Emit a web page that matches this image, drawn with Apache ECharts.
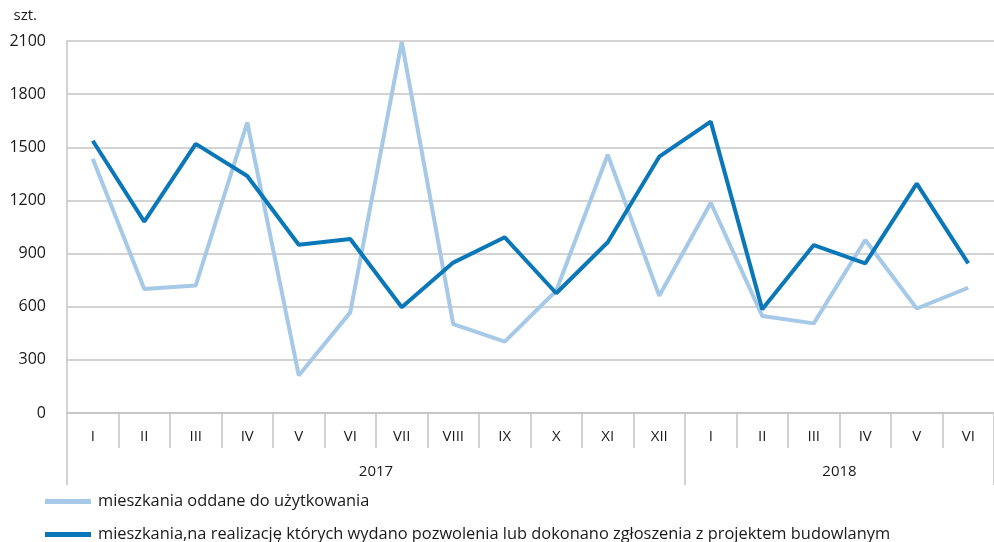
<!DOCTYPE html>
<html>
<head>
<meta charset="utf-8">
<script src="https://cdn.jsdelivr.net/npm/echarts@6/dist/echarts.min.js"></script>
<style>
  html, body { margin: 0; padding: 0; background: #fff; }
  #chart { width: 994px; height: 542px; }
</style>
</head>
<body>
<div id="chart"></div>
<script>
var months = ['I', 'II', 'III', 'IV', 'V', 'VI', 'VII', 'VIII', 'IX', 'X', 'XI', 'XII',
              'I', 'II', 'III', 'IV', 'V', 'VI'];
var years = ['2017', '2018'];
var yearStarts = [0, 12, 18];      // month index where each year starts / ends
var yearCenters = [6, 15];         // middle of each year block
var yTicks = [0, 300, 600, 900, 1200, 1500, 1800, 2100];

var oddane = [1435, 700, 720, 1640, 212, 568, 2095, 502, 403, 690, 1458, 662,
              1187, 548, 506, 977, 590, 707];
var pozwolenia = [1537, 1080, 1519, 1338, 950, 982, 597, 849, 992, 676, 964, 1447,
                  1645, 585, 948, 845, 1295, 845];

var font = 'Open Sans';
var gray = '#c4c4c4';

var myChart = echarts.init(document.getElementById('chart'));
var option = {
    animation: false,
    textStyle: {fontFamily: font},
    grid: {left: 67, top: 41, width: 930, height: 372},
    legend: {
        orient: 'vertical',
        left: 45,
        top: 493,
        padding: 0,
        height: 60,
        itemGap: 16,
        itemWidth: 46,
        itemHeight: 5,
        icon: 'rect',
        textStyle: {fontSize: 16.4, color: '#1a1a1a', fontFamily: font, lineHeight: 17, padding: [0, 0, 0, 2]},
        data: ['mieszkania oddane do użytkowania',
               'mieszkania,na realizację których wydano pozwolenia lub dokonano zgłoszenia z projektem budowlanym']
    },
    xAxis: [{
        type: 'category',
        data: months,
        boundaryGap: true,
        position: 'bottom',
        axisLine: {lineStyle: {color: gray, width: 1.5}},
        axisTick: {show: true, interval: 0, length: 35, lineStyle: {color: gray, width: 1.5}},
        axisLabel: {interval: 0, margin: 16, fontSize: 15, color: '#1a1a1a'}
    }, {
        type: 'value',
        min: 0,
        max: 18,
        position: 'bottom',
        offset: 0,
        axisLine: {show: false},
        splitLine: {show: false},
        axisTick: {show: true, customValues: yearStarts, length: 72, lineStyle: {color: gray, width: 1.5}},
        axisLabel: {
            customValues: yearCenters,
            margin: 51,
            fontSize: 15,
            color: '#1a1a1a',
            formatter: function (v) { return years[yearCenters.indexOf(v)] || ''; }
        }
    }],
    yAxis: {
        type: 'value',
        min: yTicks[0],
        max: yTicks[yTicks.length - 1],
        interval: 300,
        name: 'szt.',
        nameLocation: 'end',
        nameGap: 18,
        nameTextStyle: {align: 'right', padding: [0, 30, 0, 0], fontSize: 15, color: '#1a1a1a'},
        axisLine: {show: true, lineStyle: {color: gray, width: 1.5}},
        axisTick: {show: false},
        axisLabel: {margin: 21, fontSize: 16, color: '#1a1a1a', formatter: function (v) { return String(v); }},
        splitLine: {lineStyle: {color: gray, width: 1.5}}
    },
    series: [{
        name: 'mieszkania oddane do użytkowania',
        type: 'line',
        xAxisIndex: 0,
        data: oddane,
        symbol: 'none',
        color: '#a5c9e7',
        lineStyle: {width: 4, color: '#a5c9e7'}
    }, {
        name: 'mieszkania,na realizację których wydano pozwolenia lub dokonano zgłoszenia z projektem budowlanym',
        type: 'line',
        xAxisIndex: 0,
        data: pozwolenia,
        symbol: 'none',
        color: '#0a78b8',
        lineStyle: {width: 4, color: '#0a78b8'}
    }]
};
myChart.setOption(option);
</script>
</body>
</html>
